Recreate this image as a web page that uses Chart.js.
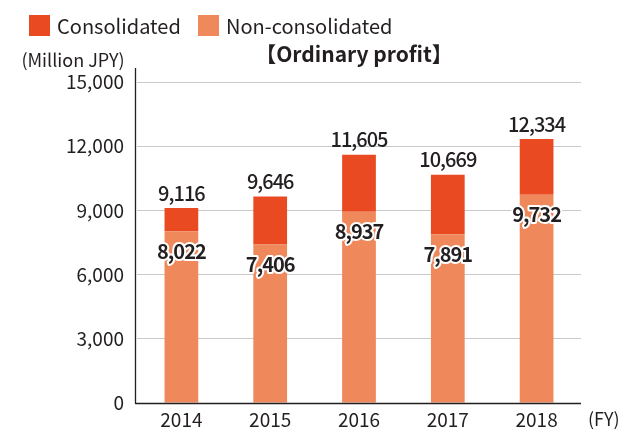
<!DOCTYPE html>
<html>
<head>
<meta charset="utf-8">
<script src="https://cdn.jsdelivr.net/npm/chart.js@4"></script>
<style>
  html, body { margin: 0; padding: 0; background: #fff; }
  #wrap { width: 621px; height: 430px; position: relative; }
</style>
</head>
<body>
<div id="wrap"><canvas id="chart" width="621" height="430"></canvas></div>
<script>
// --- data ---
const years = ['2014', '2015', '2016', '2017', '2018'];
const nonConsolidated = [8022, 7406, 8937, 7891, 9732];
const consolidated = [9116, 9646, 11605, 10669, 12334];
const yTicks = [0, 3000, 6000, 9000, 12000, 15000];

const FONT = '"Noto Sans CJK JP", "Noto Sans", sans-serif';
const TEXT = '#231f20';
const RED = '#e94a22';
const ORANGE = '#ef895b';

// consolidated bar is stacked on top of the non-consolidated part
const consolidatedPart = consolidated.map((v, i) => v - nonConsolidated[i]);

const fmt = v => v.toLocaleString('en-US');

// labels, legend, title and axis lines
const decor = {
    id: 'decor',
    afterDatasetsDraw(chart) {
        const ctx = chart.ctx;
        const area = chart.chartArea;
        const lower = chart.getDatasetMeta(0).data;
        const upper = chart.getDatasetMeta(1).data;
        ctx.save();
        ctx.textAlign = 'center';
        ctx.textBaseline = 'middle';
        ctx.lineJoin = 'round';
        ctx.letterSpacing = '-1px';
        lower.forEach((bar, i) => {
            ctx.font = 'bold 20px ' + FONT;
            ctx.strokeStyle = '#fff';
            ctx.lineWidth = 4;
            ctx.strokeText(fmt(nonConsolidated[i]), bar.x, bar.y + 20);
            ctx.fillStyle = TEXT;
            ctx.fillText(fmt(nonConsolidated[i]), bar.x, bar.y + 20);
        });
        upper.forEach((bar, i) => {
            ctx.font = '500 20px ' + FONT;
            ctx.fillStyle = TEXT;
            ctx.fillText(fmt(consolidated[i]), bar.x, bar.y - 15);
        });
        ctx.letterSpacing = '0px';

        // axis lines
        ctx.strokeStyle = '#231f20';
        ctx.lineWidth = 1.3;
        ctx.beginPath();
        ctx.moveTo(area.left - 1.5, 68);
        ctx.lineTo(area.left - 1.5, area.bottom + 0.5);
        ctx.lineTo(area.right, area.bottom + 0.5);
        ctx.stroke();

        // legend
        ctx.textAlign = 'left';
        ctx.font = '20px ' + FONT;
        ctx.fillStyle = RED;
        ctx.fillRect(29, 15, 21, 21);
        ctx.fillStyle = TEXT;
        ctx.fillText('Consolidated', 57, 26);
        ctx.fillStyle = ORANGE;
        ctx.fillRect(198, 15, 21, 21);
        ctx.fillStyle = TEXT;
        ctx.fillText('Non-consolidated', 226, 26);

        // title and units
        ctx.textAlign = 'center';
        ctx.font = 'bold 21px ' + FONT;
        ctx.fillText('【Ordinary profit】', 354, 54);
        ctx.font = '18px ' + FONT;
        ctx.fillText('(Million JPY)', 73, 60);
        ctx.textAlign = 'left';
        ctx.fillText('(FY)', 588, 419);
        ctx.restore();
    }
};

new Chart(document.getElementById('chart'), {
    type: 'bar',
    data: {
        labels: years,
        datasets: [
            { label: 'Non-consolidated', data: nonConsolidated, backgroundColor: ORANGE },
            { label: 'Consolidated', data: consolidatedPart, backgroundColor: RED }
        ]
    },
    options: {
        responsive: false,
        animation: false,
        layout: { padding: { top: 82, right: 40, left: 0, bottom: 0 } },
        datasets: { bar: { categoryPercentage: 1, barPercentage: 0.38 } },
        scales: {
            x: {
                stacked: true,
                grid: { display: false, drawTicks: false },
                border: { display: false },
                ticks: { color: TEXT, font: { family: FONT, size: 19 }, padding: 5 },
                afterFit: s => { s.height = 27; }
            },
            y: {
                stacked: true,
                min: 0,
                max: 15000,
                afterBuildTicks: s => { s.ticks = yTicks.map(v => ({ value: v })); },
                grid: { color: '#c9c9c9', lineWidth: 1, drawTicks: false },
                border: { display: false },
                ticks: {
                    color: TEXT,
                    font: { family: FONT, size: 19 },
                    padding: 13,
                    callback: v => fmt(v)
                },
                afterFit: s => { s.width = 137; }
            }
        },
        plugins: { legend: { display: false }, tooltip: { enabled: false } }
    },
    plugins: [decor]
});
</script>
</body>
</html>
